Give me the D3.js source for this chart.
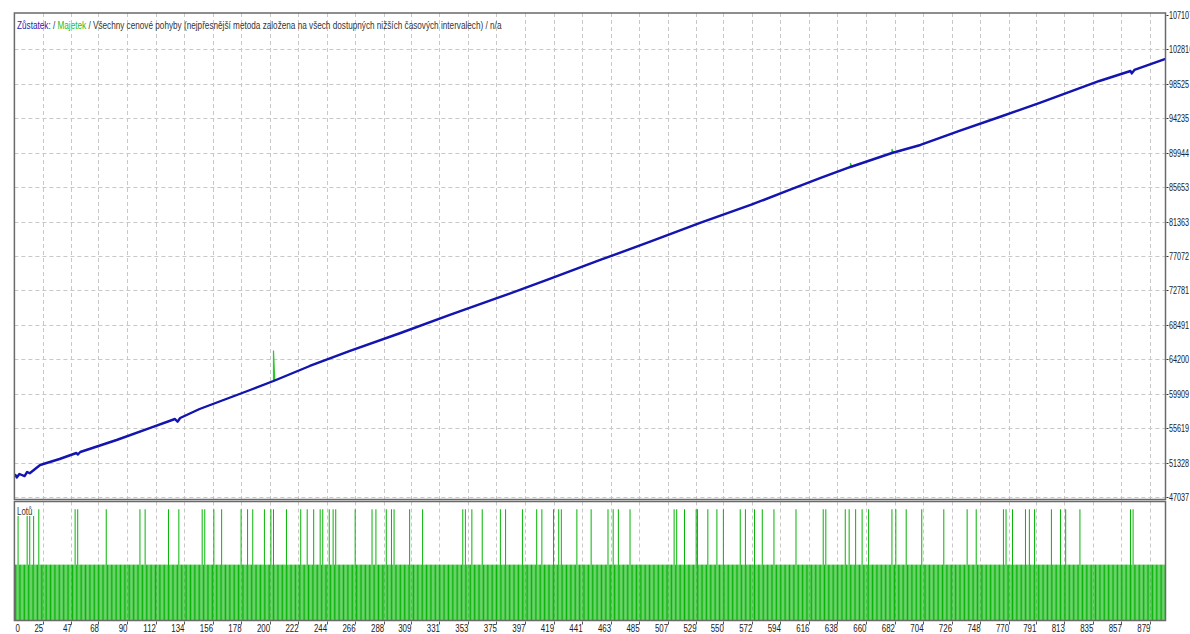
<!DOCTYPE html>
<html>
<head>
<meta charset="utf-8">
<script src="https://cdn.jsdelivr.net/npm/d3@7"></script>
<style>
body { margin: 0; background: #fff; }
svg { display: block; }
</style>
</head>
<body>
<div id="chart"></div>
<script>
// values
var tradeCount = 892

var balanceTrades = [0, 4, 5, 7, 11, 13, 15, 23, 38, 51, 52, 54, 82, 108, 127, 129, 131, 146, 185, 203, 231, 262, 301, 339,
    378, 416, 455, 493, 532, 571, 601, 625, 648, 680, 702, 732, 763, 794, 817, 840, 864, 865, 867, 891]
var balanceValues = [49700, 49779, 49480, 49903, 49650, 50153, 50000, 51025, 51773, 52521, 52330, 52645, 54141, 55637, 56758, 56420, 56883, 58004, 60372, 61494, 63364, 65233, 67476, 69720,
    71963, 74206, 76574, 78818, 81186, 83429, 85299, 86794, 88165, 89910, 90907, 92652, 94396, 96141, 97512, 98883, 100130, 99830, 100255, 101625]

// equity only shows where it leaves the balance line
var equityTrades = [202, 203, 204, 647, 648, 649, 679, 680, 681]
var equityValues = [61450, 65300, 61540, 88080, 88660, 88200, 89850, 90400, 89960]

var lotSmall = 0.1
var lotLarge = 0.2
var largeLotTrades = [6, 13, 15, 18, 22, 50, 52, 74, 100, 104, 122, 130, 148, 150, 157, 163, 178, 183, 187, 196, 201, 203,
    213, 224, 229, 234, 239, 241, 246, 249, 251, 266, 279, 282, 290, 294, 296, 308, 318, 349, 351, 356, 364, 378, 382,
    395, 406, 410, 419, 423, 425, 437, 448, 461, 465, 469, 478, 512, 514, 520, 529, 530, 538, 545, 550, 563, 567, 574,
    580, 589, 606, 627, 629, 644, 647, 652, 657, 662, 680, 683, 691, 703, 720, 738, 745, 766, 768, 773, 783, 786, 790,
    803, 810, 814, 825, 864, 866]

var yTickLabels = [47037, 51328, 55619, 59909, 64200, 68491, 72781, 77072, 81363, 85653, 89944, 94235, 98525, 102816, 107107]
var xTickLabels = [0, 25, 47, 68, 90, 112, 134, 156, 178, 200, 222, 244, 266, 288, 309, 331, 353, 375, 397, 419, 441,
    463, 485, 507, 529, 550, 572, 594, 616, 638, 660, 682, 704, 726, 748, 770, 791, 813, 835, 857, 879]

var titleParts = [
    {text: "Zůstatek:", color: "#1a1ab0"},
    {text: " / ", color: "#333"},
    {text: "Majetek", color: "#22c022"},
    {text: " / Všechny cenové pohyby (nejpřesnější metoda založena na všech dostupných nižších časových intervalech) / n/a", color: "#333"}
]

var W = 1190, H = 634
var left = 14.4, right = 1165.5
var mainTop = 13, mainBottom = 499.5
var lotTop = 501.5, lotBottom = 620.5
var font = "'Liberation Sans', Arial, sans-serif"
var narrow = 0.72
var narrowY = 0.66

var svg = d3.select("#chart").append("svg")
    .attr("width", W)
    .attr("height", H)

var x = d3.scaleLinear().domain([3.17, 891]).range([left, right])
var y = d3.scaleLinear().domain([47037, 107107]).range([497, 15])
var yLot = d3.scaleLinear().domain([0, 0.214]).range([lotBottom - 0.5, lotTop])

function tickX(v) {
    return x(Math.max(v, x.domain()[0]))
}

svg.append("defs").append("clipPath").attr("id", "clipMain")
    .append("rect").attr("x", left).attr("y", mainTop).attr("width", right - left).attr("height", mainBottom - mainTop)
svg.select("defs").append("clipPath").attr("id", "clipLot")
    .append("rect").attr("x", left).attr("y", lotTop).attr("width", right - left).attr("height", lotBottom - lotTop)

// grid
var grid = svg.append("g").attr("stroke", "#c8c8c8").attr("stroke-dasharray", "4,3").attr("stroke-width", 1)
grid.selectAll(".hgrid").data(yTickLabels.slice(0, -1))
    .enter().append("line")
    .attr("class", "hgrid")
    .attr("x1", left).attr("x2", right)
    .attr("y1", function(d) { return Math.round(y(d)) + 0.5 })
    .attr("y2", function(d) { return Math.round(y(d)) + 0.5 })
var vticks = xTickLabels.slice(1)
grid.selectAll(".vgrid").data(vticks)
    .enter().append("line")
    .attr("class", "vgrid")
    .attr("x1", function(d) { return Math.round(x(d)) + 0.5 })
    .attr("x2", function(d) { return Math.round(x(d)) + 0.5 })
    .attr("y1", mainTop).attr("y2", mainBottom)
grid.selectAll(".vgrid2").data(vticks)
    .enter().append("line")
    .attr("class", "vgrid2")
    .attr("x1", function(d) { return Math.round(x(d)) + 0.5 })
    .attr("x2", function(d) { return Math.round(x(d)) + 0.5 })
    .attr("y1", lotTop).attr("y2", lotBottom)

// balance + equity
var balance = balanceTrades.map(function(t, i) { return {t: t, v: balanceValues[i]} })
var equity = balance.concat(equityTrades.map(function(t, i) { return {t: t, v: equityValues[i]} }))
    .sort(function(a, b) { return a.t - b.t })

var line = d3.line()
    .x(function(d) { return x(d.t) })
    .y(function(d) { return y(d.v) })

var plot = svg.append("g").attr("clip-path", "url(#clipMain)")
plot.append("path").datum(equity)
    .attr("d", line)
    .attr("fill", "none")
    .attr("stroke", "#2cc82c")
    .attr("stroke-width", 1.2)
plot.append("path").datum(balance)
    .attr("d", line)
    .attr("fill", "none")
    .attr("stroke", "#1414b0")
    .attr("stroke-width", 2.4)
    .attr("stroke-linejoin", "round")

// lots histogram
var lots = d3.range(tradeCount).map(function(i) {
    return {t: i, lot: largeLotTrades.indexOf(i) >= 0 ? lotLarge : lotSmall}
})
svg.append("g").attr("clip-path", "url(#clipLot)")
    .selectAll("rect").data(lots)
    .enter().append("rect")
    .attr("x", function(d) { return x(d.t) - 0.5 })
    .attr("width", 1)
    .attr("y", function(d) { return yLot(d.lot) })
    .attr("height", function(d) { return yLot(0) - yLot(d.lot) })
    .attr("fill", "#08b408")

// label box for the lot panel
svg.append("rect").attr("x", left + 1).attr("y", lotTop + 1.5).attr("width", 19).attr("height", 13).attr("fill", "#fff")
svg.append("text")
    .attr("transform", "translate(17,515) scale(" + narrow + ",1)")
    .attr("font-family", font).attr("font-size", 11).attr("fill", "#333")
    .text("Lotů")

// frames
var frame = svg.append("g").attr("fill", "none").attr("stroke", "#6a6a6a").attr("stroke-width", 1.5)
frame.append("rect").attr("x", left).attr("y", mainTop).attr("width", right - left).attr("height", mainBottom - mainTop)
frame.append("rect").attr("x", left).attr("y", lotTop).attr("width", right - left).attr("height", lotBottom - lotTop)

// y axis labels
var yl = svg.append("g")
yl.selectAll("line").data(yTickLabels)
    .enter().append("line")
    .attr("x1", right + 1).attr("x2", right + 3)
    .attr("y1", function(d) { return Math.round(y(d)) + 0.5 })
    .attr("y2", function(d) { return Math.round(y(d)) + 0.5 })
    .attr("stroke", "#333")
yl.selectAll("text").data(yTickLabels)
    .enter().append("text")
    .attr("transform", function(d) { return "translate(" + (right + 3.5) + "," + (y(d) + 4) + ") scale(" + narrowY + ",1)" })
    .attr("font-family", font).attr("font-size", 11).attr("fill", "#222")
    .text(function(d) { return d })

// x axis labels
var xl = svg.append("g")
xl.selectAll("line").data(vticks)
    .enter().append("line")
    .attr("x1", function(d) { return Math.round(x(d)) + 0.5 })
    .attr("x2", function(d) { return Math.round(x(d)) + 0.5 })
    .attr("y1", lotBottom + 1).attr("y2", lotBottom + 4)
    .attr("stroke", "#555")
xl.selectAll("text").data(xTickLabels)
    .enter().append("text")
    .attr("transform", function(d) {
        var px = d === 0 ? left + 1 : tickX(d) + 0.5
        return "translate(" + px + ",632) scale(" + narrow + ",1)"
    })
    .attr("text-anchor", function(d) { return d === 0 ? "start" : "end" })
    .attr("font-family", font).attr("font-size", 11).attr("fill", "#222")
    .text(function(d) { return d })

// title
var title = svg.append("text")
    .attr("font-family", font).attr("font-size", 11)
    .attr("xml:space", "preserve")
title.selectAll("tspan").data(titleParts)
    .enter().append("tspan")
    .attr("fill", function(d) { return d.color })
    .text(function(d) { return d.text })
var tl = title.node().getComputedTextLength()
title.attr("transform", "translate(17,28.5) scale(" + (485 / tl) + ",1)")
</script>
</body>
</html>
